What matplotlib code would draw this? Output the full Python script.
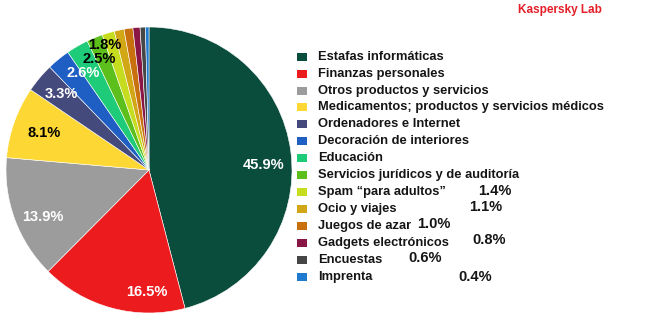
import matplotlib.pyplot as plt
import numpy as np
from matplotlib.patches import Rectangle

plt.rcParams['font.family'] = ['Liberation Sans', 'DejaVu Sans']

categories = [
    'Estafas informáticas',
    'Finanzas personales',
    'Otros productos y servicios',
    'Medicamentos; productos y servicios médicos',
    'Ordenadores e Internet',
    'Decoración de interiores',
    'Educación',
    'Servicios jurídicos y de auditoría',
    'Spam \u201cpara adultos\u201d',
    'Ocio y viajes',
    'Juegos de azar',
    'Gadgets electrónicos',
    'Encuestas',
    'Imprenta',
]
shares = [45.9, 16.5, 13.9, 8.1, 3.3, 2.6, 2.5, 1.8, 1.4, 1.1, 1.0, 0.8, 0.6, 0.4]

colors = ['#0b4d3d', '#ec1c1e', '#9c9c9c', '#fdd835', '#454a7c', '#1f5fc4',
          '#1ecb78', '#5cbf1c', '#c6dc1e', '#d2a716', '#c8700e', '#8a1645',
          '#464646', '#1f7ad0']

# labels drawn on the wedges: colour, radius fraction, angle nudge (deg)
inside = {0: ('white', 0.80, -5), 1: ('white', 0.85, 14), 2: ('white', 0.81, 4),
          3: ('black', 0.78, 0), 4: ('white', 0.81, -1), 5: ('white', 0.82, -5),
          6: ('black', 0.85, -6), 7: ('black', 0.93, -3)}

# small shares are written next to the legend (figure pixels, centre)
outside_pos = {8: (495, 191), 9: (486, 207), 10: (434, 224),
               11: (489, 240), 12: (425, 258), 13: (475, 277)}

W, H = 650, 325
fig = plt.figure(figsize=(6.5, 3.25), dpi=100)
cx, cy, r = 149, 170, 143
ax = fig.add_axes([(cx - r) / W, (H - cy - r) / H, 2 * r / W, 2 * r / H])

wedges, _ = ax.pie(shares, colors=colors, startangle=90, counterclock=False,
                   radius=1, wedgeprops=dict(edgecolor='white', linewidth=0.4))
ax.set_xlim(-1, 1)
ax.set_ylim(-1, 1)
ax.set_aspect('equal')
ax.axis('off')

for i, (col, rf, nudge) in inside.items():
    w = wedges[i]
    ang = np.deg2rad((w.theta1 + w.theta2) / 2 + nudge)
    ax.text(rf * np.cos(ang), rf * np.sin(ang), f'{shares[i]:.1f}%',
            ha='center', va='center', color=col, fontsize=10.5, fontweight='bold')

def px(x, y):
    return x / W, 1 - y / H

# legend
y0, step = 56.7, 16.92
for i, (name, col) in enumerate(zip(categories, colors)):
    y = y0 + i * step
    fig.add_artist(Rectangle(px(297, y + 4), 10 / W, 8 / H, facecolor=col,
                             edgecolor='none', transform=fig.transFigure))
    fig.text(*px(318, y), name, ha='left', va='center', fontsize=9.3,
             fontweight='bold', color='#151515')

for i, (x, y) in outside_pos.items():
    fig.text(*px(x, y), f'{shares[i]:.1f}%', ha='center', va='center',
             fontsize=10.5, fontweight='bold', color='#151515')

fig.text(*px(560, 10), 'Kaspersky Lab', ha='center', va='center',
         fontsize=8.5, fontweight='bold', color='#e3202a')

fig.savefig('out.png', dpi=100, facecolor='white')
